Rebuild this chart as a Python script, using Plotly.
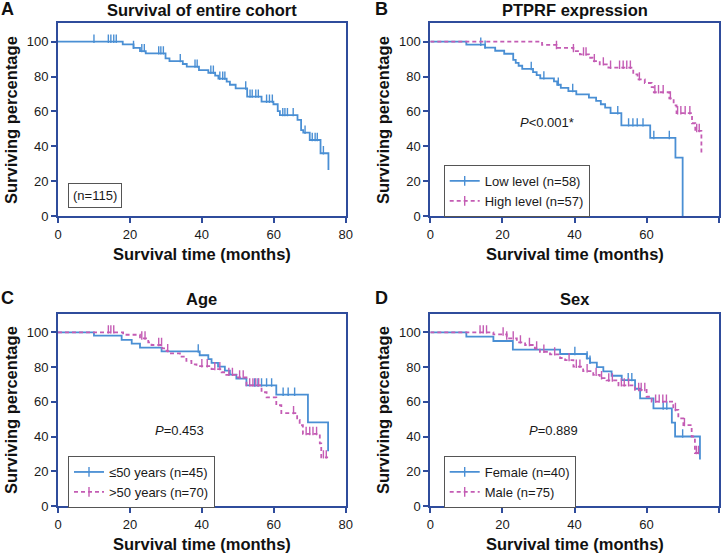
import plotly.graph_objects as go

W, H = 725, 555
FONT = "Arial, Liberation Sans, sans-serif"
FRAME = "#2f4c9c"
BLUE = "#4a8fd4"
PINK = "#c45cb4"

# ---------------- data ----------------
# Panel A: entire cohort
a_times = [18, 21, 22.8, 24.4, 29.9, 31, 34.7, 35.8, 39.2, 41.8, 43.7, 44.6, 46.9, 47.8,
           49.4, 52.6, 56.6, 59.9, 61.1, 61.7, 66.6, 67.6, 68.2, 70, 73, 75.2]
a_surv = [98.5, 96.5, 94.6, 93.3, 90.4, 88.9, 87.2, 85.7, 83.7, 82.2, 80.5, 78.8, 77.1, 75.3,
          73.2, 68.5, 65.6, 64.1, 60.2, 57.9, 55.1, 49.3, 47.8, 43.6, 36.0, 26.4]
a_cens = [10, 14, 14.7, 15.5, 16.2, 21, 23.3, 24, 28, 28.6, 29.3, 34, 38.1, 38.7, 42.5, 43.2,
          45, 45.8, 46.4, 52.2, 53.4, 54, 55, 55.7, 58, 58.8, 59.6, 62.5, 63.1, 63.8, 65.4,
          68.7, 70.7, 71.5, 72.1, 73.8]
a_end = 75.2

# Panel B: PTPRF expression
b_low_times = [10, 15.2, 18, 20.5, 23, 23.7, 24.5, 25.5, 28.5, 29.5, 30.5, 34.3, 35.2, 36.2,
               38.3, 40.5, 44, 46, 47.3, 48.5, 50, 53, 61, 68, 70]
b_low_surv = [98.3, 96.6, 94.8, 93.1, 89.6, 87.9, 86.2, 84.4, 82.6, 80.8, 79.0, 77.2, 75.3, 73.5,
              71.7, 69.8, 67.9, 66.0, 64.1, 62.2, 59.0, 52.0, 44.8, 33.5, 0]
b_low_cens = [14, 15.2, 28, 31.5, 35.5, 39.5, 52, 55, 56.2, 57.4, 59, 62, 66.3]
b_low_end = 70

b_high_times = [31, 35, 39.7, 41.5, 44, 45, 47, 49.4, 56.3, 57.5, 59.5, 61.4, 62, 66.3,
                67.5, 68.3, 72.6, 73.5, 75.2]
b_high_surv = [98.2, 96.4, 94.6, 92.7, 90.8, 88.9, 87.0, 85.1, 81.2, 78.4, 76.3, 73.9, 71.0, 67.5,
               63.5, 59.0, 53.2, 48.8, 36.0]
b_high_cens = [35, 39.7, 42.5, 43.2, 45.5, 48, 50, 52.5, 53.5, 54.5, 55.5, 58, 62.3, 63.3,
               64.6, 66.6, 68.6, 69.5, 70.7, 72, 73.9, 74.6]
b_high_end = 75.2

# Panel C: Age
c_young_times = [10, 17.7, 20.5, 22.8, 28.8, 39.4, 41.8, 42.7, 44.5, 46.4, 47.8, 49.6, 52.4,
                 60.7, 69.5, 75.1]
c_young_surv = [98.1, 95.6, 93.5, 91.2, 89.0, 86.8, 84.6, 82.4, 80.2, 77.9, 75.6, 73.3, 69.4,
                64.1, 48.1, 31.5]
c_young_cens = [39, 54.7, 55.6, 56.6, 58, 59.4, 62.6, 64, 65.8]
c_young_end = 75.1

c_old_times = [18.1, 22.8, 25.1, 26, 29, 30.2, 31.1, 33.9, 35.7, 37.1, 38.5, 42.7, 45.5, 46.8,
               49.6, 52.4, 56.6, 58, 60.7, 62.1, 66.5, 67.2, 68.1, 72.8, 73.2]
c_old_surv = [98.6, 96.5, 94.2, 92.7, 90.8, 89.2, 87.9, 86.0, 83.5, 81.5, 80.5, 78.8, 77.0, 75.5,
              74.0, 69.5, 65.5, 62.5, 58.0, 53.5, 49.5, 46.5, 41.5, 36.0, 28.0]
c_old_cens = [14, 14.7, 15.5, 23.3, 24.2, 28, 28.8, 30.5, 40, 41.5, 43.6, 45, 47.5, 48.5, 50.5,
              51.5, 53.3, 54.2, 55, 55.8, 65.5, 69, 70, 70.9, 71.9, 73.8, 74.6]
c_old_end = 75.1

# Panel D: Sex
d_female_times = [10, 17.5, 22.9, 36, 43.4, 44.3, 46.2, 48, 50.3, 53.1, 56.8, 58.2, 61.9, 67,
                  67.9, 74.8]
d_female_surv = [97.5, 95.0, 90.0, 87.5, 85.0, 82.5, 80.0, 77.5, 75.0, 72.5, 67.5, 62.0, 56.2,
                 48.0, 40.0, 26.7]
d_female_cens = [40.1, 43.5, 44.3, 54.9, 55.9, 64.6, 65.6, 70]
d_female_end = 74.8

d_male_times = [17.5, 21.2, 24, 26.3, 29, 30.4, 33.2, 36, 37.4, 39.7, 42.4, 45.2, 47, 48.9,
                52.2, 56.8, 60, 61.4, 67.4, 68.8, 70.2, 72.5, 73.4]
d_male_surv = [98.8, 96.5, 94.2, 92.7, 90.8, 88.8, 87.3, 85.2, 84.0, 80.2, 77.6, 75.5, 73.6, 72.3,
               69.5, 66.8, 62.9, 60.1, 55.3, 50.5, 46.6, 40.0, 30.5]
d_male_cens = [13.8, 14.7, 15.6, 20.2, 21.2, 23, 25, 27.5, 29.5, 31.5, 34.5, 38.5, 40.5, 41.5,
               43.5, 46, 47.5, 49.5, 50.5, 53, 53.8, 55, 57.8, 58.5, 59.5, 62.5, 63.5, 64.5,
               65.5, 68, 70.5, 73.8, 74.4]
d_male_end = 74.8

panel_titles = ["Survival of entire cohort", "PTPRF expression", "Age", "Sex"]
panel_letters = ["A", "B", "C", "D"]
legend_names = {
    "B": ["Low level (n=58)", "High level (n=57)"],
    "C": ["\u226450 years (n=45)", ">50 years (n=70)"],
    "D": ["Female (n=40)", "Male (n=75)"],
}
p_texts = {"B": "<i>P</i>&lt;0.001*", "C": "<i>P</i>=0.453", "D": "<i>P</i>=0.889"}
cohort_label = "(n=115)"
x_ticks = [0, 20, 40, 60, 80]
y_ticks = [0, 20, 40, 60, 80, 100]

# ---------------- helpers ----------------
def step_xy(times, surv, end):
    xs = [0] + list(times) + [end]
    ys = [100] + list(surv) + [surv[-1]]
    return xs, ys


def surv_at(times, surv, t):
    s = 100.0
    for ti, si in zip(times, surv):
        if ti <= t:
            s = si
        else:
            break
    return s


def px_x(p):
    return p / W


def px_y(p):
    return 1 - p / H


fig = go.Figure()

series = [
    (1, a_times, a_surv, a_cens, a_end, BLUE, "solid", None, None),
    (2, b_low_times, b_low_surv, b_low_cens, b_low_end, BLUE, "solid", legend_names["B"][0], "legend"),
    (2, b_high_times, b_high_surv, b_high_cens, b_high_end, PINK, "4px,3px", legend_names["B"][1], "legend"),
    (3, c_young_times, c_young_surv, c_young_cens, c_young_end, BLUE, "solid", legend_names["C"][0], "legend2"),
    (3, c_old_times, c_old_surv, c_old_cens, c_old_end, PINK, "4px,3px", legend_names["C"][1], "legend2"),
    (4, d_female_times, d_female_surv, d_female_cens, d_female_end, BLUE, "solid", legend_names["D"][0], "legend3"),
    (4, d_male_times, d_male_surv, d_male_cens, d_male_end, PINK, "4px,3px", legend_names["D"][1], "legend3"),
]

TICK_OFF = 1.7  # censor tick sits just above the curve (data units)

for idx, times, surv, cens, end, col, dash, name, leg in series:
    xa = "x" if idx == 1 else f"x{idx}"
    ya = "y" if idx == 1 else f"y{idx}"
    xs, ys = step_xy(times, surv, end)
    fig.add_trace(go.Scatter(x=xs, y=ys, mode="lines", line=dict(color=col, width=1.8, dash=dash, shape="hv"),
                             xaxis=xa, yaxis=ya, showlegend=False, hoverinfo="skip"))
    cy = [surv_at(times, surv, t) + TICK_OFF for t in cens]
    fig.add_trace(go.Scatter(x=cens, y=cy, mode="markers",
                             marker=dict(symbol="line-ns-open", size=6, color=col,
                                         line=dict(color=col, width=1.4)),
                             xaxis=xa, yaxis=ya, showlegend=False, hoverinfo="skip"))
    if name:
        fig.add_trace(go.Scatter(x=[None], y=[None], mode="lines+markers", name=name,
                                 line=dict(color=col, width=1.8, dash=dash),
                                 marker=dict(symbol="line-ns-open", size=7, color=col,
                                             line=dict(color=col, width=1.4)),
                                 xaxis=xa, yaxis=ya, showlegend=True, legend=leg))

# panel geometry in pixels: (left, right, top, bottom)
geo = {
    1: (58, 345.7, 23.3, 216),
    2: (430.3, 718.7, 23.3, 216),
    3: (58, 345.7, 314.3, 506),
    4: (430.3, 718.7, 314.3, 506),
}

layout = dict(
    width=W, height=H,
    margin=dict(l=0, r=0, t=0, b=0, pad=0, autoexpand=False),
    paper_bgcolor="white", plot_bgcolor="white",
    font=dict(family=FONT, size=13, color="#1a1a1a"),
)

for idx, (l, r, t, b) in geo.items():
    sfx = "" if idx == 1 else str(idx)
    y100 = 41.7 if idx <= 2 else 332.3
    ytop = 100 * (b - t) / (b - y100)
    axcommon = dict(showline=True, linecolor=FRAME, linewidth=2, mirror=True,
                    ticks="outside", ticklen=5, tickwidth=1.5, tickcolor=FRAME,
                    showgrid=False, zeroline=False, fixedrange=True, automargin=False,
                    tickfont=dict(family=FONT, size=13, color="#1a1a1a"))
    layout["xaxis" + sfx] = dict(domain=[px_x(l), px_x(r)], range=[0, 80], tickvals=x_ticks,
                                 anchor="y" + sfx, **axcommon)
    layout["yaxis" + sfx] = dict(domain=[px_y(b), px_y(t)], range=[0, ytop], tickvals=y_ticks,
                                 anchor="x" + sfx, **axcommon)

legbase = dict(bgcolor="white", bordercolor="#555555", borderwidth=1,
               font=dict(family=FONT, size=13, color="#1a1a1a"),
               xanchor="left", yanchor="top", itemwidth=30, tracegroupgap=0)
layout["legend"] = dict(x=px_x(443.7), y=px_y(165), **legbase)
layout["legend2"] = dict(x=px_x(68), y=px_y(456), **legbase)
layout["legend3"] = dict(x=px_x(443.7), y=px_y(456), **legbase)

fig.update_layout(**layout)

ann = []
title_pos = [(202, 10), (574.7, 10), (201.7, 299), (574.7, 299)]
for txt, (x, y) in zip(panel_titles, title_pos):
    ann.append(dict(text=f"<b>{txt}</b>", x=px_x(x), y=px_y(y), xref="paper", yref="paper",
                    xanchor="center", yanchor="middle",
                    showarrow=False, font=dict(family=FONT, size=16.5, color="#111")))
letter_pos = [(8, 9), (381, 9), (8, 298), (381, 298)]
for txt, (x, y) in zip(panel_letters, letter_pos):
    ann.append(dict(text=f"<b>{txt}</b>", x=px_x(x), y=px_y(y), xref="paper", yref="paper",
                    xanchor="center", yanchor="middle",
                    showarrow=False, font=dict(family=FONT, size=18, color="#111")))
for x, y in [(201.7, 254), (574.5, 254), (201.7, 544), (574.5, 544)]:
    ann.append(dict(text="<b>Survival time (months)</b>", x=px_x(x), y=px_y(y), xref="paper", yref="paper",
                    xanchor="center", yanchor="middle",
                    showarrow=False, font=dict(family=FONT, size=16.5, color="#111")))
for x, y in [(11, 120), (383, 120), (11, 410), (383, 410)]:
    ann.append(dict(text="<b>Surviving percentage</b>", x=px_x(x), y=px_y(y), xref="paper", yref="paper",
                    xanchor="center", yanchor="middle",
                    textangle=-90, showarrow=False, font=dict(family=FONT, size=16.5, color="#111")))
for key, ax, (x, y) in [("B", "2", (32.4, 53.4)), ("C", "3", (33.9, 43.7)), ("D", "4", (34.2, 43.7))]:
    ann.append(dict(text=p_texts[key], x=x, y=y, xref="x" + ax, yref="y" + ax, showarrow=False,
                    xanchor="center", yanchor="middle",
                    font=dict(family=FONT, size=13, color="#1a1a1a")))
ann.append(dict(text=cohort_label, x=px_x(68), y=px_y(183), xref="paper", yref="paper",
                xanchor="left", yanchor="top", showarrow=False, bgcolor="white",
                bordercolor="#555555", borderwidth=1, borderpad=4,
                font=dict(family=FONT, size=13, color="#1a1a1a")))
fig.update_layout(annotations=ann)

fig.write_html("out.html", config={"displayModeBar": False},
               post_script="document.body.style.margin='0';document.body.style.padding='0';")
